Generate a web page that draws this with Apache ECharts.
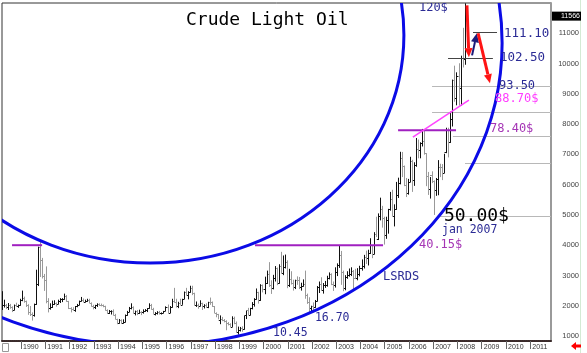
<!DOCTYPE html>
<html>
<head>
<meta charset="utf-8">
<script src="https://cdn.jsdelivr.net/npm/echarts@6/dist/echarts.min.js"></script>
<style>
html, body { margin: 0; padding: 0; background: #fff; }
#chart { width: 587px; height: 353px; }
</style>
</head>
<body>
<div id="chart"></div>
<script>
// monthly OHLC bars in $ per barrel, first bar = March 1989
const firstYear = 1989;
const firstMonth = 3;

const opens = [
  19.2, 20.3, 20.4, 19.7, 20.3, 19.7, 18.7, 20.2, 19.9, 20.1,
  21.8, 22.7, 21.6, 20.3, 18.0, 17.3, 17.0, 20.7, 27.3, 39.5, 35.2, 29.9,
  28.4, 21.5, 19.1, 19.6, 20.7, 21.0, 20.6, 21.5, 22.1, 22.2, 23.3, 21.5,
  19.1, 18.9, 18.7, 19.8, 20.4, 21.6, 21.9, 21.3, 21.6, 21.8, 21.0, 20.0,
  19.5, 20.3, 20.5, 20.4, 20.1, 19.8, 18.6, 17.6, 18.1, 18.4, 17.0, 15.6,
  14.2, 15.2, 14.4, 14.7, 16.9, 18.0, 19.4, 19.6, 17.6, 18.3, 17.5, 18.0,
  17.8, 18.4, 18.5, 19.2, 20.4, 18.9, 17.4, 17.6, 17.8, 17.6, 17.6, 18.2,
  19.6, 17.7, 19.5, 21.5, 21.2, 19.8, 21.0, 20.4, 22.3, 24.4, 23.4, 24.6,
  25.9, 24.2, 20.3, 20.4, 19.9, 20.9, 19.8, 20.1, 19.6, 21.2, 21.1, 19.9,
  17.6, 17.2, 15.4, 15.6, 15.2, 15.0, 14.2, 14.0, 13.1, 16.1, 14.4, 11.2,
  12.1, 12.8, 12.3, 16.8, 18.7, 16.8, 19.3, 20.5, 22.1, 24.5, 21.8, 27.0,
  25.6, 27.6, 30.4, 26.9, 25.7, 29.0, 32.5, 27.4, 33.1, 30.8, 32.7, 34.4,
  26.8, 28.7, 27.4, 26.3, 28.5, 28.4, 26.3, 26.4, 27.2, 23.4, 21.2, 19.4,
  19.8, 19.5, 21.7, 26.3, 27.3, 25.3, 26.9, 27.0, 29.0, 30.5, 27.2, 26.9,
  31.2, 33.5, 36.6, 31.0, 25.8, 29.6, 30.2, 30.5, 31.6, 29.2, 29.1, 30.4,
  32.5, 33.0, 36.2, 35.8, 37.4, 39.9, 37.1, 43.8, 42.1, 49.6, 51.8, 49.1,
  43.5, 48.2, 51.8, 55.4, 49.7, 52.0, 56.5, 60.6, 68.9, 66.2, 59.8, 57.3,
  61.0, 67.9, 61.4, 66.6, 71.9, 71.3, 73.9, 74.4, 70.3, 62.9, 58.7, 63.1,
  61.1, 58.1, 61.8, 65.9, 65.7, 64.0, 70.7, 78.2, 74.0, 81.7, 94.5, 88.7,
  96.0, 91.8, 101.8, 101.6
];
const highs = [
  24.8, 22.0, 20.6, 20.9, 20.6, 19.8, 20.4, 21.0, 20.4, 22.3,
  25.0, 23.0, 21.7, 20.5, 19.9, 17.8, 20.7, 31.9, 39.5, 41.2, 35.8, 30.5,
  33.0, 22.5, 20.8, 21.7, 21.8, 21.1, 22.0, 22.5, 22.5, 24.0, 23.5, 21.6,
  19.5, 19.5, 19.9, 20.6, 21.7, 22.9, 22.4, 22.0, 22.3, 22.3, 21.1, 20.3,
  20.3, 20.8, 20.8, 20.7, 20.4, 20.0, 18.8, 18.6, 18.5, 18.8, 17.3, 15.7,
  15.6, 15.5, 15.5, 17.1, 18.3, 19.6, 20.8, 19.8, 18.4, 18.6, 18.7, 18.2,
  18.8, 18.9, 19.2, 20.8, 20.6, 19.3, 17.9, 18.2, 18.3, 17.8, 18.3, 19.8,
  20.4, 19.9, 22.3, 25.9, 22.3, 21.3, 22.3, 22.3, 24.7, 25.9, 24.8, 26.6,
  26.6, 24.3, 21.4, 20.7, 21.8, 21.0, 20.5, 20.8, 21.3, 22.7, 21.4, 19.9,
  17.8, 17.3, 16.8, 16.3, 15.6, 15.2, 14.6, 14.2, 16.5, 16.4, 14.8, 13.1,
  13.0, 13.2, 16.7, 18.3, 19.3, 19.3, 21.2, 22.5, 25.7, 24.6, 27.1, 27.0,
  29.6, 31.6, 34.4, 28.4, 30.2, 33.1, 32.6, 33.7, 37.8, 36.6, 36.9, 35.0,
  32.2, 31.4, 28.6, 28.6, 29.7, 29.5, 27.6, 28.7, 31.6, 24.0, 22.8, 20.0,
  21.1, 21.9, 26.5, 28.0, 29.4, 27.5, 28.2, 29.9, 31.0, 30.7, 28.0, 32.7,
  34.0, 39.99, 38.1, 31.6, 30.1, 31.4, 32.3, 32.7, 31.8, 32.2, 32.4, 33.2,
  35.3, 36.8, 38.2, 38.5, 42.3, 40.0, 44.3, 49.4, 50.5, 55.7, 53.0, 49.4,
  49.4, 52.0, 57.6, 58.3, 53.5, 60.9, 62.3, 70.85, 70.8, 66.3, 62.2, 61.9,
  69.2, 68.2, 67.4, 75.4, 74.9, 74.0, 78.4, 77.8, 70.4, 64.2, 62.5, 64.4,
  61.4, 62.2, 68.1, 66.9, 66.8, 70.2, 78.8, 78.8, 84.1, 94.7, 99.3, 97.1,
  100.1, 102.6, 111.8, 119.9
];
const lows = [
  18.6, 19.4, 18.9, 18.6, 19.0, 17.9, 18.5, 19.6, 19.3, 20.0,
  21.5, 21.0, 19.6, 17.0, 16.6, 15.1, 16.4, 20.3, 26.5, 29.5, 29.0, 24.9,
  20.8, 17.8, 18.7, 19.3, 20.3, 19.7, 20.5, 20.9, 21.2, 22.0, 21.3, 18.9,
  17.8, 18.4, 18.0, 19.5, 20.2, 21.4, 21.2, 21.1, 21.3, 20.9, 19.7, 18.8,
  18.9, 19.6, 19.9, 19.8, 19.5, 18.4, 17.3, 17.3, 17.1, 16.8, 15.5, 13.9,
  14.1, 14.0, 14.1, 14.5, 16.7, 17.9, 18.8, 17.4, 16.8, 16.9, 17.3, 16.9,
  17.4, 18.0, 17.9, 19.0, 18.7, 17.3, 16.8, 17.1, 17.1, 17.1, 17.5, 18.2,
  17.4, 17.6, 19.4, 21.0, 19.4, 19.2, 20.3, 20.3, 22.2, 23.4, 22.1, 24.3,
  23.5, 20.1, 19.6, 19.0, 19.8, 18.6, 19.1, 19.3, 19.2, 20.3, 19.6, 17.6,
  16.2, 15.5, 13.9, 14.9, 14.5, 11.9, 13.5, 12.9, 13.0, 13.9, 11.1, 10.45,
  11.5, 11.4, 12.1, 15.6, 16.9, 16.8, 18.8, 19.7, 22.0, 20.7, 21.6, 24.4,
  23.8, 27.2, 26.2, 23.9, 25.4, 28.0, 26.8, 27.3, 30.6, 30.1, 32.3, 25.8,
  26.2, 27.0, 25.0, 25.5, 26.9, 25.5, 25.0, 26.3, 22.3, 20.6, 17.6, 17.9,
  17.8, 19.3, 21.4, 24.2, 24.9, 24.0, 25.9, 26.3, 28.7, 26.8, 24.9, 26.0,
  29.8, 32.5, 26.9, 24.8, 25.1, 28.9, 29.6, 29.8, 25.3, 28.8, 28.4, 29.7,
  31.6, 32.3, 33.8, 33.3, 37.1, 35.7, 37.0, 42.7, 41.7, 48.2, 45.8, 40.2,
  42.1, 43.8, 51.4, 49.5, 46.2, 51.7, 55.6, 60.1, 62.5, 59.5, 55.9, 56.7,
  60.8, 57.6, 59.6, 65.9, 68.7, 68.7, 72.6, 69.9, 59.5, 56.6, 55.4, 60.5,
  50.0, 56.3, 56.5, 62.5, 61.5, 63.8, 70.4, 69.0, 73.8, 79.2, 87.4, 86.2,
  86.1, 86.1, 98.7, 99.6
];
const closes = [
  20.3, 20.4, 19.7, 20.3, 19.7, 18.7, 20.2, 19.9, 20.1, 21.8,
  22.7, 21.6, 20.3, 18.0, 17.3, 17.0, 20.7, 27.3, 39.5, 35.2, 29.9, 28.4,
  21.5, 19.1, 19.6, 20.7, 21.0, 20.6, 21.5, 22.1, 22.2, 23.3, 21.5, 19.1,
  18.9, 18.7, 19.8, 20.4, 21.6, 21.9, 21.3, 21.6, 21.8, 21.0, 20.0, 19.5,
  20.3, 20.5, 20.4, 20.1, 19.8, 18.6, 17.6, 18.1, 18.4, 17.0, 15.6, 14.2,
  15.2, 14.4, 14.7, 16.9, 18.0, 19.4, 19.6, 17.6, 18.3, 17.5, 18.0, 17.8,
  18.4, 18.5, 19.2, 20.4, 18.9, 17.4, 17.6, 17.8, 17.6, 17.6, 18.2, 19.6,
  17.7, 19.5, 21.5, 21.2, 19.8, 21.0, 20.4, 22.3, 24.4, 23.4, 24.6, 25.9,
  24.2, 20.3, 20.4, 19.9, 20.9, 19.8, 20.1, 19.6, 21.2, 21.1, 19.9, 17.6,
  17.2, 15.4, 15.6, 15.2, 15.0, 14.2, 14.0, 13.1, 16.1, 14.4, 11.2, 12.1,
  12.8, 12.3, 16.8, 18.7, 16.8, 19.3, 20.5, 22.1, 24.5, 21.8, 27.0, 25.6,
  27.6, 30.4, 26.9, 25.7, 29.0, 32.5, 27.4, 33.1, 30.8, 32.7, 34.4, 26.8,
  28.7, 27.4, 26.3, 28.5, 28.4, 26.3, 26.4, 27.2, 23.4, 21.2, 19.4, 19.8,
  19.5, 21.7, 26.3, 27.3, 25.3, 26.9, 27.0, 29.0, 30.5, 27.2, 26.9, 31.2,
  33.5, 36.6, 31.0, 25.8, 29.6, 30.2, 30.5, 31.6, 29.2, 29.1, 30.4, 32.5,
  33.0, 36.2, 35.8, 37.4, 39.9, 37.1, 43.8, 42.1, 49.6, 51.8, 49.1, 43.5,
  48.2, 51.8, 55.4, 49.7, 52.0, 56.5, 60.6, 68.9, 66.2, 59.8, 57.3, 61.0,
  67.9, 61.4, 66.6, 71.9, 71.3, 73.9, 74.4, 70.3, 62.9, 58.7, 63.1, 61.1,
  58.1, 61.8, 65.9, 65.7, 64.0, 70.7, 78.2, 74.0, 81.7, 94.5, 88.7, 96.0,
  91.8, 101.8, 101.6, 115.66
];
const lastPrice = 115.66;

const yearTicks = [];
for (let y = 1990; y <= 2011; y++) yearTicks.push(y);
const priceTicks = [10, 20, 30, 40, 50, 60, 70, 80, 90, 100, 110];

// drawing overlay, in (year, $) coordinates
const rings = [
  { center: [1995.32, 106.8], rx: 14.52, ry: 100 },
  { center: [1995.32, 109.4], rx: 10.47, ry: 75.3 }
];
const grayLevels = [
  [92.5, 2006.95, 2011.9], [83.9, 2006.95, 2011.9], [76.0, 2007.81, 2011.9],
  [67.1, 2008.31, 2011.9], [49.6, 2007.28, 2011.9]
];
const darkLevels = [[110.3, 2008.64, 2009.63], [101.7, 2007.61, 2009.46]];
const resistances = [[40.0, 1989.63, 1990.87], [40.0, 1999.65, 2004.93], [78.0, 2005.55, 2007.94]];
const trendLine = [[2006.16, 75.7], [2008.47, 87.9]];
const arrows = [
  { from: [2008.39, 119.2], to: [2008.47, 102.1], color: '#ff1414', width: 3 },
  { from: [2008.60, 102.7], to: [2008.80, 110.0], color: '#1c1c7a', width: 2 },
  { from: [2008.85, 110.0], to: [2009.34, 93.5], color: '#ff1414', width: 3 }
];
const notes = [
  { text: '120$', at: [2006.41, 118.25], color: '#2b2b95', size: 12 },
  { text: '111.10', at: [2009.92, 110.0], color: '#2b2b95', size: 12.5 },
  { text: '102.50', at: [2009.75, 101.75], color: '#2b2b95', size: 12.5 },
  { text: '93.50', at: [2009.71, 92.5], color: '#2b2b95', size: 12 },
  { text: '88.70$', at: [2009.55, 88.2], color: '#ff3cff', size: 12 },
  { text: '78.40$', at: [2009.34, 78.3], color: '#a535b5', size: 12 },
  { text: '50.00$', at: [2007.44, 49.6], color: '#000000', size: 18 },
  { text: 'jan 2007', at: [2007.36, 45.0], color: '#2b2b95', size: 11.5 },
  { text: '40.15$', at: [2006.41, 40.0], color: '#a535b5', size: 12 },
  { text: 'LSRDS', at: [2004.93, 29.5], color: '#2b2b95', size: 12 },
  { text: '16.70', at: [2002.12, 15.9], color: '#2b2b95', size: 11.5 },
  { text: '10.45', at: [2000.39, 11.0], color: '#2b2b95', size: 11.5 }
];

const MONO = '"DejaVu Sans Mono", monospace';

const bars = closes.map((c, i) => {
  const m = firstMonth - 1 + i;
  const t = firstYear + Math.floor(m / 12) + ((m % 12) + 0.5) / 12;
  return [t, opens[i], highs[i], lows[i], c];
});

function renderBar(params, api) {
  const t = api.value(0);
  const o = api.value(1), h = api.value(2), l = api.value(3), c = api.value(4);
  const top = api.coord([t, h]);
  const bot = api.coord([t, l]);
  const yo = Math.round(api.coord([t, o])[1]) + 0.5;
  const yc = Math.round(api.coord([t, c])[1]) + 0.5;
  const x = Math.round(top[0]) + 0.5;
  const color = c >= o ? '#111' : '#999';
  return {
    type: 'group',
    children: [
      { type: 'line', shape: { x1: x, y1: top[1], x2: x, y2: bot[1] }, style: { stroke: color, lineWidth: 1 } },
      { type: 'line', shape: { x1: x - 1.5, y1: yo, x2: x, y2: yo }, style: { stroke: color, lineWidth: 1 } },
      { type: 'line', shape: { x1: x, y1: yc, x2: x + 1.5, y2: yc }, style: { stroke: color, lineWidth: 1 } }
    ]
  };
}

function segment(a, b, color, width) {
  return { type: 'line', shape: { x1: a[0], y1: a[1], x2: b[0], y2: b[1] }, style: { stroke: color, lineWidth: width } };
}

function arrowShape(a, b, color, width) {
  const dx = b[0] - a[0], dy = b[1] - a[1];
  const len = Math.hypot(dx, dy);
  const ux = dx / len, uy = dy / len;
  const hl = 9, hw = 4;
  const base = [b[0] - ux * hl, b[1] - uy * hl];
  return [
    segment(a, base, color, width),
    { type: 'polygon', shape: { points: [b, [base[0] - uy * hw, base[1] + ux * hw], [base[0] + uy * hw, base[1] - ux * hw]] }, style: { fill: color } }
  ];
}

function renderLevels(params, api) {
  const kids = [];
  grayLevels.forEach(([v, t1, t2]) => {
    const a = api.coord([t1, v]), b = api.coord([t2, v]);
    const y = Math.round(a[1]) + 0.5;
    kids.push(segment([a[0], y], [b[0], y], '#b8b8b8', 1));
  });
  return { type: 'group', children: kids };
}

function renderDrawing(params, api) {
  const kids = [];
  rings.forEach(r => {
    const c = api.coord(r.center);
    const s = api.size([r.rx, r.ry]);
    kids.push({ type: 'ellipse', shape: { cx: c[0], cy: c[1], rx: s[0], ry: s[1] }, style: { fill: null, stroke: '#0b0be6', lineWidth: 3 } });
  });
  darkLevels.forEach(([v, t1, t2]) => {
    const a = api.coord([t1, v]), b = api.coord([t2, v]);
    const y = Math.round(a[1]) + 0.5;
    kids.push(segment([a[0], y], [b[0], y], '#444', 1));
  });
  resistances.forEach(([v, t1, t2]) => {
    const a = api.coord([t1, v]), b = api.coord([t2, v]);
    kids.push(segment(a, b, '#a020c0', 2));
  });
  kids.push(segment(api.coord(trendLine[0]), api.coord(trendLine[1]), '#ff44ff', 1.5));
  arrows.forEach(ar => {
    arrowShape(api.coord(ar.from), api.coord(ar.to), ar.color, ar.width).forEach(k => kids.push(k));
  });
  notes.forEach(n => {
    const p = api.coord(n.at);
    kids.push({
      type: 'text', x: p[0], y: p[1],
      style: { text: n.text, fill: n.color, font: n.size + 'px ' + MONO, align: 'left', verticalAlign: 'middle' }
    });
  });
  return { type: 'group', children: kids };
}

function renderLast(params, api) {
  const p = api.coord([2011.856, lastPrice]);
  return {
    type: 'text', x: p[0] + 1, y: p[1],
    style: {
      text: String(Math.round(lastPrice * 100)), fill: '#fff', backgroundColor: '#000',
      font: '7px "Liberation Sans", sans-serif', align: 'left', verticalAlign: 'middle',
      padding: [1, 2, 1, 9], width: 18
    }
  };
}

const chart = echarts.init(document.getElementById('chart'));

chart.setOption({
  animation: false,
  backgroundColor: '#fff',
  title: {
    text: 'Crude Light Oil',
    left: 181, top: 6,
    textStyle: { fontFamily: MONO, fontSize: 18, fontWeight: 'normal', color: '#000' }
  },
  grid: { left: 2, right: 36, top: 3, bottom: 12, show: true, borderColor: '#333', borderWidth: 1 },
  xAxis: {
    type: 'value', min: 1989.216, max: 2011.856,
    splitLine: { show: false },
    axisLine: { show: true, lineStyle: { color: '#3a2a2a', width: 2, type: [1, 1] } },
    axisTick: { show: true, customValues: yearTicks, length: 8, lineStyle: { color: '#666' } },
    axisLabel: {
      customValues: yearTicks, formatter: v => String(v), align: 'left', margin: 3,
      padding: [0, 0, 0, 2], fontSize: 7, color: '#333', fontFamily: '"Liberation Sans", sans-serif'
    }
  },
  yAxis: {
    type: 'value', position: 'right', min: 8.35, max: 120,
    splitLine: { show: false },
    axisLine: { show: true, lineStyle: { color: '#9a9a9a', width: 2 } },
    axisTick: { show: false },
    axisLabel: {
      customValues: priceTicks, formatter: v => String(Math.round(v * 100)),
      align: 'right', margin: 28, fontSize: 7.5, color: '#444', fontFamily: '"Liberation Sans", sans-serif'
    }
  },
  graphic: [
    { type: 'line', shape: { x1: 580.5, y1: 0, x2: 580.5, y2: 353 }, style: { stroke: '#d4ead4', lineWidth: 1 } },
    { type: 'rect', shape: { x: 2.5, y: 343.5, width: 6, height: 8 }, style: { fill: '#fff', stroke: '#999' } },
    { type: 'polygon', shape: { points: [[571, 346], [576, 342], [576, 344.5], [581, 344.5], [581, 347.5], [576, 347.5], [576, 350]] }, style: { fill: '#ff0000' } }
  ],
  series: [
    { type: 'custom', name: 'levels', clip: true, z: 1, data: [[2000, 50]], renderItem: renderLevels },
    { type: 'custom', name: 'Crude Light Oil', clip: true, z: 2, data: bars, encode: { x: 0, y: [1, 2, 3, 4] }, renderItem: renderBar },
    { type: 'custom', name: 'drawing', clip: true, z: 3, data: [[2000, 50]], renderItem: renderDrawing },
    { type: 'custom', name: 'last', clip: false, z: 4, data: [[2011, lastPrice]], renderItem: renderLast }
  ]
});
</script>
</body>
</html>
